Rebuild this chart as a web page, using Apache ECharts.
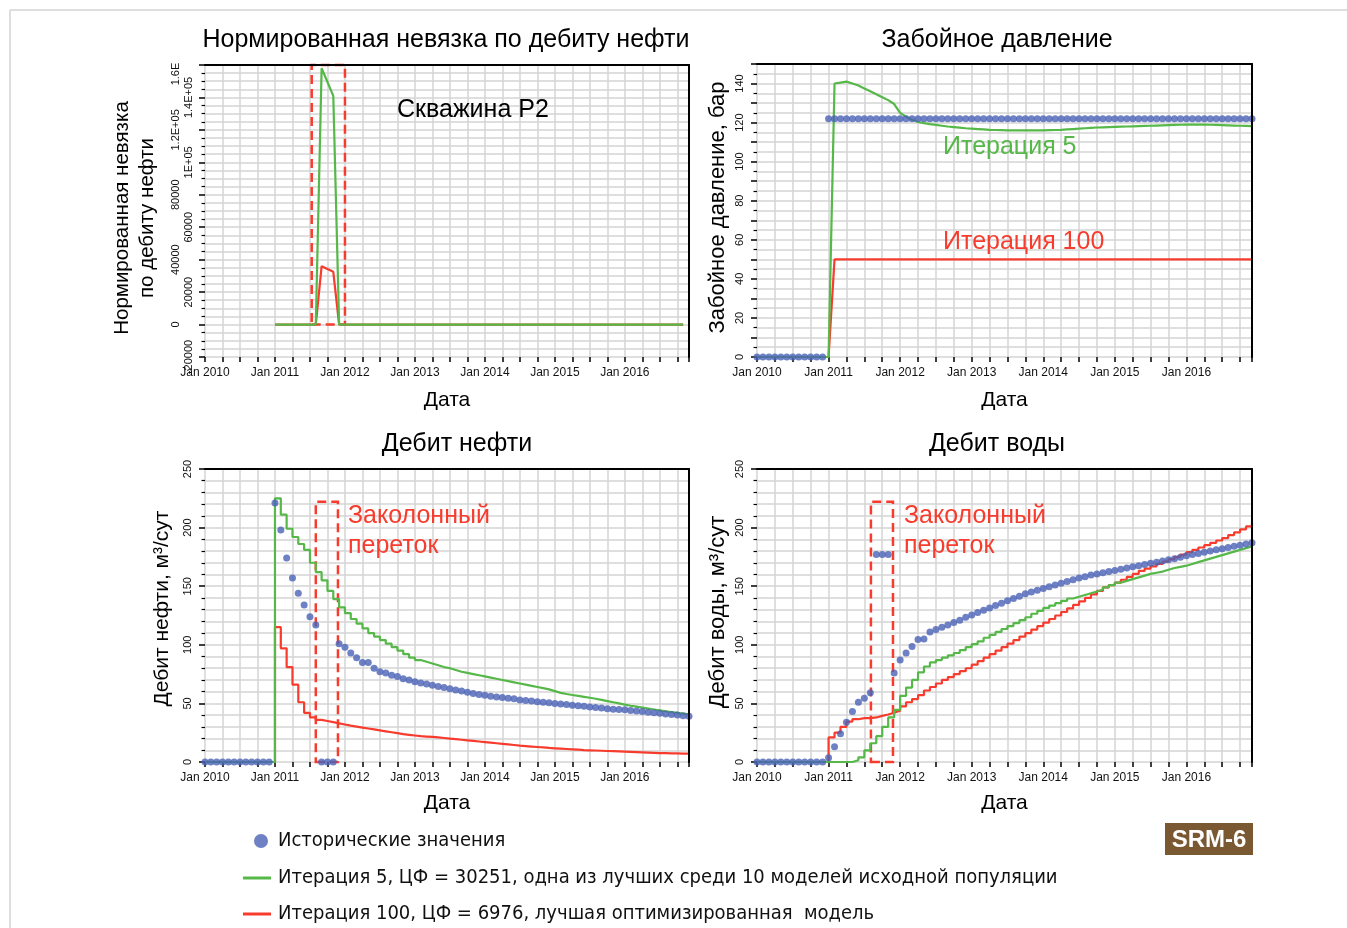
<!DOCTYPE html>
<html><head><meta charset="utf-8">
<script src="https://cdn.jsdelivr.net/npm/echarts@6/dist/echarts.min.js"></script>
<style>html,body{margin:0;padding:0;background:#fff}#c{width:1347px;height:928px}</style>
</head><body><div id="c"></div>
<script>
// ---- data (monthly, index 0 = Jan 2010 ... 83 = Dec 2016) ----
const yearLabels = ['Jan 2010','Jan 2011','Jan 2012','Jan 2013','Jan 2014','Jan 2015','Jan 2016'];
const resTickLabels = {'-20000':'-20000','0':'0','20000':'20000','40000':'40000','60000':'60000','80000':'80000','100000':'1E+05','120000':'1.2E+05','140000':'1.4E+05','160000':'1.6E'};

const resIt5 = [null,null,null,null,null,null,null,null,null,null,null,null,
 0,0,0,0,0,0,0,0,158000,149500,141000,0,
 0,0,0,0,0,0,0,0,0,0,0,0, 0,0,0,0,0,0,0,0,0,0,0,0, 0,0,0,0,0,0,0,0,0,0,0,0,
 0,0,0,0,0,0,0,0,0,0,0,0, 0,0,0,0,0,0,0,0,0,0,0,null];
const resIt100 = [null,null,null,null,null,null,null,null,null,null,null,null,
 0,0,0,0,0,0,0,0,36000,34200,32500,0,
 0,0,0,0,0,0,0,0,0,0,0,0, 0,0,0,0,0,0,0,0,0,0,0,0, 0,0,0,0,0,0,0,0,0,0,0,0,
 0,0,0,0,0,0,0,0,0,0,0,0, 0,0,0,0,0,0,0,0,0,0,0,null];

const presHist = [0,0,0,0,0,0,0,0,0,0,0,0,
 122,122,122,122,122,122,122,122,122,122,122,122, 122,122,122,122,122,122,122,122,122,122,122,122,
 122,122,122,122,122,122,122,122,122,122,122,122, 122,122,122,122,122,122,122,122,122,122,122,122,
 122,122,122,122,122,122,122,122,122,122,122,122, 122,122,122,122,122,122,122,122,122,122,122,122];
const presIt5 = [0,0,0,0,0,0,0,0,0,0,0,0,0,
 140,140.5,141,140,139,137.5,136,134.5,133,131.5,129.5,
 125,123,121.5,120.3,119.7,119.2,118.8,118.4,118,117.7,117.4,117.1,
 116.9,116.7,116.5,116.3,116.2,116.1,116,116,116,116,116,116,
 116,116.1,116.2,116.3,116.5,116.7,116.9,117.1,117.3,117.5,117.6,117.7,
 117.8,117.9,118,118.1,118.2,118.3,118.4,118.5,118.6,118.7,118.8,118.9,
 119,119,119,119,118.9,118.8,118.7,118.6,118.5,118.4,118.3,118.2];
const presIt100 = [0,0,0,0,0,0,0,0,0,0,0,0,0,
 50,50,50,50,50,50,50,50,50,50,50, 50,50,50,50,50,50,50,50,50,50,50,50,
 50,50,50,50,50,50,50,50,50,50,50,50, 50,50,50,50,50,50,50,50,50,50,50,50,
 50,50,50,50,50,50,50,50,50,50,50,50, 50,50,50,50,50,50,50,50,50,50,50,50];

const oilHist = [0,0,0,0,0,0,0,0,0,0,0,0,
 221,198,174,157,144,134,124,117,0,0,0,101,
 98,93,89,85,85,80,77,76,74,73,71,70,
 68.5,67.5,66.5,65.5,64.5,63.5,62.5,61.5,60.5,59.5,58.5,57.5,
 57,56,55.5,55,54.5,54,53,52.5,52,51.5,51,50.5,
 50,49.5,49,48.5,48,47.5,47,46.5,46,45.5,45,44.7,
 44.5,44,43.5,43,42.5,42,41.5,41,40.5,40,39.5,39];
const oilIt5 = [0,0,0,0,0,0,0,0,0,0,0,0,
 225,211,199,192,186,181,170,162,155,146,139,132,
 127,122,118,114,110,107,104,101,98,95,92,89,
 87,85.5,84,82.5,81,80,78.5,77,76,75,74,73,
 72,71,70,69,68,67,66,65,64,63,62,60.5,
 59,58,57.2,56.4,55.6,54.8,54,53,52,51,50,49,
 48,47.2,46.4,45.6,44.8,44,43.3,42.6,41.9,41.2,40.6,40];
const oilIt100 = [0,0,0,0,0,0,0,0,0,0,0,0,
 115,97,81,66,51,42,38,36,35,34,33,32,
 31,30.2,29.4,28.6,27.8,27,26.2,25.4,24.6,23.8,23.2,22.6,
 22,21.7,21.4,21,20.5,20,19.5,19,18.5,18,17.5,17,
 16.5,16,15.5,15,14.5,14,13.6,13.2,12.8,12.4,12,11.7,
 11.4,11.1,10.8,10.5,10.2,10,9.8,9.6,9.4,9.2,9,8.8,
 8.6,8.4,8.2,8,7.8,7.6,7.5,7.4,7.3,7.2,7.1,7];

const waterHist = [0,0,0,0,0,0,0,0,0,0,0,0,
 3.7,13,24,34,43,51,54.5,59,177,177,177,76,
 87,93,98.5,104.5,105,111,113,115,117,119,121,123.5,
 125.5,127.5,129.5,131.5,133.5,135.5,137.5,139.5,141.5,143.5,145,146.5,
 148,149.5,151,152.5,154,155.5,157,158,159.5,160.5,161.5,162.5,
 163.5,164.5,165.5,166.5,167.5,168.5,169.5,170.5,171.5,172.5,173.5,174.8,
 176,177,178,179,180,181,182,183,184,185,186,187];
const waterIt5 = [0,0,0,0,0,0,0,0,0,0,0,0,0,0,0,0,
 1.5,4,10,16,22,30,38,44.5,
 56.5,63.5,70,76.5,81.5,85,87,89,91,93,95.5,98,
 100.5,103,106,108.5,111,113.5,116,118.5,121,123.5,126.5,129,
 131.5,133.5,135.5,137.5,139.5,141,142.5,144,145.5,147,149,151,
 153,154.5,156,157.5,159,160.5,161.5,162.5,164,165.5,166.5,167.5,
 169,170.5,172,173.5,175,176.5,178,179.5,181,182.5,184,185.5];
const waterIt100 = [0,0,0,0,0,0,0,0,0,0,0,0,
 21,25,30,34.5,36.5,37.4,37.4,38,39.4,40.5,42,43.7,
 47.4,51,53.7,57,61,64,67,70,72.5,75,77.5,80,
 83,86,89,92,95,98,101,104,107,110,113,116,
 119,122,125,128,131,134,137,140,143,146,149,151,
 153,155.5,158,160.5,163,165,167,169,171,173,175,177,
 179,181,183,185,187,189,191,193.5,196,198.5,201,204];

// dashed boxes [xFrom, xTo, yFrom, yTo] in data units
const resBox = [18.3, 24.0, 0, 160000];
const oilBox = [19.0, 22.8, 0, 222];
const waterBox = [19.1, 22.8, 0, 222];

const NAME_HIST = 'Исторические значения';
const NAME_IT5 = 'Итерация 5, ЦФ = 30251, одна из лучших среди 10 моделей исходной популяции';
const NAME_IT100 = 'Итерация 100, ЦФ = 6976, лучшая оптимизированная  модель';

// ---- styles ----
const BLUE = '#4a61b5', GREEN = '#55b848', RED = '#f73c2e', GRIDC = '#d5d5d5';
const FONT = '"Liberation Sans", Arial, sans-serif';
const NARROW = '"Liberation Sans Narrow", "DejaVu Sans Condensed", "Liberation Sans", sans-serif';

const grids = [
  {left:205, top:65, width:484, height:292},
  {left:757, top:64, width:495, height:293},
  {left:205, top:469, width:484, height:293},
  {left:757, top:469, width:495, height:293}
];

// residual labels alternate between two columns (outer column for every second tick)
const resFmt = v => {
  const s = resTickLabels[String(v)] || '';
  if (v === 160000) return '{t|' + s + '}';
  const outer = (Math.round(v / 20000) % 2 === 0);
  return outer ? '{a|' + s + '}' : '{b|' + s + '}';
};
const lab = {fontSize:11, color:'#111', fontFamily:FONT};
const resRich = {
  t:Object.assign({}, lab, {padding:[0,18,13,0]}),
  a:Object.assign({}, lab, {padding:[0,0,13,0]}),
  b:Object.assign({}, lab, {padding:[0,0,0,0]})
};

const yCfg = [
  {min:-20000, max:160000, interval:20000, minor:4, margin:11, name:'Нормированная невязка\nпо дебиту нефти', gap:45, fs:20.5,
   pad:[0,14,0,0], fmt:resFmt, rich:resRich},
  {min:0, max:150, interval:10, minor:2, margin:12, name:'Забойное давление, бар', gap:27, fs:22, pad:[0,0,0,6],
   fmt: v => (v % 20 === 0 && v <= 140) ? String(v) : ''},
  {min:0, max:250, interval:50, minor:5, margin:12, name:'Дебит нефти, м³/сут', gap:30, fs:21, pad:[0,0,0,14],
   fmt: v => String(v)},
  {min:0, max:250, interval:50, minor:5, margin:12, name:'Дебит воды, м³/сут', gap:27, fs:22, pad:[0,0,0,7],
   fmt: v => String(v)}
];
const xNameGap = [33, 33, 31, 31];

const xAxis = [], yAxis = [];
grids.forEach((g, i) => {
  xAxis.push({
    gridIndex:i, type:'value', min:0, max:83, interval:3,
    axisLine:{show:false, onZero:false},
    axisTick:{show:true, length:5, lineStyle:{color:'#000', width:1.5}},
    axisLabel:{margin:10, fontSize:12, color:'#111', fontFamily:FONT,
      formatter: v => (v % 12 === 0 ? (yearLabels[v/12] || '') : '')},
    splitLine:{show:true, lineStyle:{color:GRIDC, width:1.5}},
    name:'Дата', nameLocation:'middle', nameGap:xNameGap[i],
    nameTextStyle:{fontSize:21, color:'#000', fontFamily:FONT}
  });
  xAxis.push({
    gridIndex:i, type:'value', min:0, max:83, z:10,
    axisLine:{show:true, onZero:false, lineStyle:{color:'#000', width:2}},
    axisTick:{show:false}, axisLabel:{show:false}, splitLine:{show:false}
  });
  const c = yCfg[i];
  const axisLabel = {rotate:90, margin:c.margin, fontSize:11, color:'#111', fontFamily:FONT, formatter:c.fmt};
  if (c.rich) axisLabel.rich = c.rich;
  yAxis.push({
    gridIndex:i, type:'value', min:c.min, max:c.max, interval:c.interval,
    axisLine:{show:false, onZero:false},
    axisTick:{show:true, length:6, lineStyle:{color:'#000', width:1.5}},
    minorTick:{show:true, splitNumber:c.minor, length:3.5, lineStyle:{color:'#000', width:1.2}},
    axisLabel,
    splitLine:{show:true, lineStyle:{color:GRIDC, width:1.5}},
    minorSplitLine:{show:true, lineStyle:{color:GRIDC, width:1.5}},
    name:c.name, nameLocation:'middle', nameRotate:90, nameGap:c.gap,
    nameTextStyle:{fontSize:c.fs, color:'#000', fontFamily:FONT, lineHeight:25, padding:c.pad}
  });
  yAxis.push({
    gridIndex:i, type:'value', min:c.min, max:c.max, z:10,
    axisLine:{show:true, onZero:false, lineStyle:{color:'#000', width:2}},
    axisTick:{show:false}, axisLabel:{show:false}, splitLine:{show:false}
  });
});

const pairs = arr => arr.map((v, i) => [i, v]);
function lineS(name, arr, color, gi, step, z, box) {
  const s = {type:'line', name, xAxisIndex:2*gi, yAxisIndex:2*gi, data:pairs(arr),
    step: step ? 'end' : false, symbol:'none', showSymbol:false, z,
    lineStyle:{color, width:2.2}, itemStyle:{color}, emphasis:{disabled:true}};
  if (box) {
    s.markArea = {silent:true, itemStyle:{color:'rgba(0,0,0,0)', borderColor:RED, borderWidth:2.5, borderType:[9,5]},
      data:[[{coord:[box[0], box[2]]}, {coord:[box[1], box[3]]}]]};
  }
  return s;
}
function dotS(arr, gi) {
  return {type:'scatter', name:NAME_HIST, xAxisIndex:2*gi, yAxisIndex:2*gi,
    data:pairs(arr).filter(d => d[1] !== null), symbolSize:7, z:4,
    itemStyle:{color:BLUE}, emphasis:{disabled:true}};
}

const series = [
  lineS(NAME_IT100, resIt100, RED, 0, false, 2, resBox),
  lineS(NAME_IT5, resIt5, GREEN, 0, false, 3),
  lineS(NAME_IT100, presIt100, RED, 1, false, 2),
  lineS(NAME_IT5, presIt5, GREEN, 1, false, 3),
  dotS(presHist, 1),
  lineS(NAME_IT100, oilIt100, RED, 2, true, 2, oilBox),
  lineS(NAME_IT5, oilIt5, GREEN, 2, true, 3),
  dotS(oilHist, 2),
  lineS(NAME_IT100, waterIt100, RED, 3, true, 2, waterBox),
  lineS(NAME_IT5, waterIt5, GREEN, 3, true, 3),
  dotS(waterHist, 3)
];

const legendBase = {orient:'horizontal', padding:0, selectedMode:false,
  textStyle:{fontSize:20, color:'#111', fontFamily:NARROW}};
const legend = [
  Object.assign({}, legendBase, {data:[NAME_HIST], left:254, top:831, icon:'circle', itemWidth:14, itemHeight:14,
    textStyle:Object.assign({}, legendBase.textStyle, {padding:[0,0,0,5]})}),
  Object.assign({}, legendBase, {data:[NAME_IT5], left:243, top:868, icon:'rect', itemWidth:28, itemHeight:3,
    textStyle:Object.assign({}, legendBase.textStyle, {padding:[0,0,0,2]})}),
  Object.assign({}, legendBase, {data:[NAME_IT100], left:243, top:904, icon:'rect', itemWidth:28, itemHeight:3,
    textStyle:Object.assign({}, legendBase.textStyle, {padding:[0,0,0,2]})})
];

function txt(text, x, y, color, size, align) {
  return {type:'text', x, y, z:20, silent:true,
    style:{text, fill:color, font:'normal ' + size + 'px ' + FONT, align:align || 'left', verticalAlign:'middle'}};
}
const graphic = [
  {type:'line', shape:{x1:10, y1:10, x2:1347, y2:10}, style:{stroke:'#dedede', lineWidth:2}, silent:true},
  {type:'line', shape:{x1:10, y1:10, x2:10, y2:928}, style:{stroke:'#dedede', lineWidth:2}, silent:true},
  txt('Нормированная невязка по дебиту нефти', 446, 40, '#000', 25, 'center'),
  txt('Забойное давление', 997, 40, '#000', 25, 'center'),
  txt('Дебит нефти', 457, 444, '#000', 25, 'center'),
  txt('Дебит воды', 997, 444, '#000', 25, 'center'),
  txt('Скважина P2', 397, 110, '#000', 25),
  txt('Итерация 5', 943, 147, GREEN, 25),
  txt('Итерация 100', 943, 242, RED, 25),
  txt('Заколонный', 348, 516, RED, 25),
  txt('переток', 348, 546, RED, 25),
  txt('Заколонный', 904, 516, RED, 25),
  txt('переток', 904, 546, RED, 25),
  {type:'rect', shape:{x:1165, y:823, width:88, height:32}, style:{fill:'#7a5832'}, silent:true, z:20},
  {type:'text', x:1209, y:840, z:21, silent:true,
    style:{text:'SRM-6', fill:'#fff', font:'bold 24px ' + FONT, align:'center', verticalAlign:'middle'}}
];

const chart = echarts.init(document.getElementById('c'), null, {renderer:'canvas'});
chart.setOption({
  animation:false, backgroundColor:'#fff',
  grid:grids, xAxis, yAxis, series, legend, graphic
});
</script>
</body></html>
